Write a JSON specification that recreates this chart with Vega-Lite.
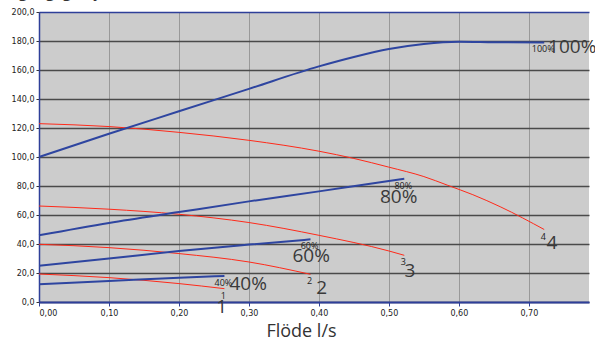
{
  "$schema": "https://vega.github.io/schema/vega-lite/v6.json",
  "width": 550,
  "height": 290,
  "autosize": {"type": "none"},
  "padding": {"left": 39, "top": 12, "right": 6, "bottom": 40},
  "background": "white",
  "config": {
    "locale": {"number": {"decimal": ",", "thousands": "\u00a0", "grouping": [3], "currency": ["", " kr"]}},
    "view": {"fill": "#cccccc", "stroke": null},
    "axis": {"labelFont": "DejaVu Sans", "labelFontSize": 8, "labelColor": "#222222", "titleFont": "Open Sans", "titleFontWeight": "normal", "titleColor": "#333333"}
  },
  "datasets": {
    "curves": [
      {"series": "100%", "kind": "pump", "x": 0, "y": 100},
      {"series": "100%", "kind": "pump", "x": 0.1, "y": 116},
      {"series": "100%", "kind": "pump", "x": 0.2, "y": 131.5},
      {"series": "100%", "kind": "pump", "x": 0.3, "y": 147},
      {"series": "100%", "kind": "pump", "x": 0.4, "y": 162.5},
      {"series": "100%", "kind": "pump", "x": 0.45, "y": 169},
      {"series": "100%", "kind": "pump", "x": 0.5, "y": 174.5},
      {"series": "100%", "kind": "pump", "x": 0.55, "y": 178},
      {"series": "100%", "kind": "pump", "x": 0.6, "y": 179.5},
      {"series": "100%", "kind": "pump", "x": 0.65, "y": 179.2},
      {"series": "100%", "kind": "pump", "x": 0.722, "y": 179},
      {"series": "80%", "kind": "pump", "x": 0, "y": 46},
      {"series": "80%", "kind": "pump", "x": 0.1, "y": 54.5},
      {"series": "80%", "kind": "pump", "x": 0.2, "y": 62},
      {"series": "80%", "kind": "pump", "x": 0.3, "y": 69.4},
      {"series": "80%", "kind": "pump", "x": 0.4, "y": 76.3},
      {"series": "80%", "kind": "pump", "x": 0.5, "y": 83.5},
      {"series": "80%", "kind": "pump", "x": 0.522, "y": 85},
      {"series": "60%", "kind": "pump", "x": 0, "y": 25},
      {"series": "60%", "kind": "pump", "x": 0.1, "y": 30},
      {"series": "60%", "kind": "pump", "x": 0.2, "y": 35.2},
      {"series": "60%", "kind": "pump", "x": 0.3, "y": 39.6},
      {"series": "60%", "kind": "pump", "x": 0.388, "y": 43.2},
      {"series": "40%", "kind": "pump", "x": 0, "y": 12.2},
      {"series": "40%", "kind": "pump", "x": 0.1, "y": 14.5},
      {"series": "40%", "kind": "pump", "x": 0.2, "y": 16.8},
      {"series": "40%", "kind": "pump", "x": 0.265, "y": 17.9},
      {"series": "4", "kind": "system", "x": 0, "y": 123},
      {"series": "4", "kind": "system", "x": 0.1, "y": 121},
      {"series": "4", "kind": "system", "x": 0.2, "y": 117},
      {"series": "4", "kind": "system", "x": 0.3, "y": 111.5},
      {"series": "4", "kind": "system", "x": 0.4, "y": 104},
      {"series": "4", "kind": "system", "x": 0.45, "y": 99},
      {"series": "4", "kind": "system", "x": 0.5, "y": 93},
      {"series": "4", "kind": "system", "x": 0.55, "y": 86.5},
      {"series": "4", "kind": "system", "x": 0.584, "y": 80.5},
      {"series": "4", "kind": "system", "x": 0.62, "y": 74},
      {"series": "4", "kind": "system", "x": 0.66, "y": 65.5},
      {"series": "4", "kind": "system", "x": 0.722, "y": 50},
      {"series": "3", "kind": "system", "x": 0, "y": 66.2},
      {"series": "3", "kind": "system", "x": 0.1, "y": 64},
      {"series": "3", "kind": "system", "x": 0.2, "y": 60.5},
      {"series": "3", "kind": "system", "x": 0.3, "y": 54.8},
      {"series": "3", "kind": "system", "x": 0.4, "y": 46},
      {"series": "3", "kind": "system", "x": 0.5, "y": 35.2},
      {"series": "3", "kind": "system", "x": 0.522, "y": 32.2},
      {"series": "2", "kind": "system", "x": 0, "y": 39.8},
      {"series": "2", "kind": "system", "x": 0.1, "y": 37.5},
      {"series": "2", "kind": "system", "x": 0.2, "y": 33.4},
      {"series": "2", "kind": "system", "x": 0.3, "y": 27.6},
      {"series": "2", "kind": "system", "x": 0.388, "y": 19.1},
      {"series": "1", "kind": "system", "x": 0, "y": 19.3},
      {"series": "1", "kind": "system", "x": 0.1, "y": 16.8},
      {"series": "1", "kind": "system", "x": 0.2, "y": 12.7},
      {"series": "1", "kind": "system", "x": 0.265, "y": 9.2}
    ],
    "annotations": [
      {"label": "100%", "x": 0.762, "y": 175.7},
      {"label": "80%", "x": 0.514, "y": 72.2},
      {"label": "60%", "x": 0.389, "y": 31.5},
      {"label": "40%", "x": 0.299, "y": 12.2},
      {"label": "4", "x": 0.733, "y": 40.5},
      {"label": "3", "x": 0.53, "y": 21.2},
      {"label": "2", "x": 0.404, "y": 9.5},
      {"label": "1", "x": 0.261, "y": -3.5}
    ]
  },
  "encoding": {
    "x": {
      "field": "x", "type": "quantitative",
      "scale": {"domain": [0, 0.786], "nice": false, "zero": false},
      "axis": {
        "values": [0, 0.1, 0.2, 0.3, 0.4, 0.5, 0.6, 0.7],
        "format": ".2f",
        "title": "Flöde l/s",
        "titleFontSize": 18,
        "titleX": 262,
        "titleY": 34,
        "titleAnchor": null,
        "titleAlign": "center",
        "titleBaseline": "alphabetic",
        "grid": true,
        "gridColor": "#999999",
        "gridWidth": 1,
        "domainColor": "#2e3f99",
        "domainWidth": 2,
        "tickColor": "#2e3f99",
        "tickSize": 4,
        "labelPadding": 3
      }
    },
    "y": {
      "field": "y", "type": "quantitative",
      "scale": {"domain": [0, 200], "nice": false, "zero": false},
      "axis": {
        "values": [0, 20, 40, 60, 80, 100, 120, 140, 160, 180, 200],
        "format": ".1f",
        "title": "Tillgängligt tryck, kPa",
        "titleFontSize": 16,
        "titleAngle": 0,
        "titleAlign": "left",
        "titleBaseline": "alphabetic",
        "titleX": -42,
        "titleY": -16,
        "grid": true,
        "gridColor": {"condition": {"test": "datum.value === 200", "value": "#2e3f99"}, "value": "#4a4a4a"},
        "gridWidth": 1.5,
        "domainColor": "#2e3f99",
        "domainWidth": 1.5,
        "tickColor": "#333333",
        "tickSize": 3,
        "labelPadding": 2
      }
    }
  },
  "layer": [
    {
      "data": {"name": "curves"},
      "transform": [{"filter": "datum.kind === 'system'"}],
      "mark": {"type": "line", "interpolate": "monotone", "color": "#ff2a1a", "strokeWidth": 1},
      "encoding": {"detail": {"field": "series"}}
    },
    {
      "data": {"name": "curves"},
      "transform": [{"filter": "datum.kind === 'pump'"}],
      "mark": {"type": "line", "interpolate": "monotone", "color": "#2e45a0", "strokeWidth": 2},
      "encoding": {"detail": {"field": "series"}}
    },
    {
      "data": {"name": "curves"},
      "transform": [
        {"joinaggregate": [{"op": "max", "field": "x", "as": "maxx"}], "groupby": ["series"]},
        {"filter": "datum.x === datum.maxx"}
      ],
      "mark": {"type": "text", "font": "Open Sans", "fontSize": 9, "color": "#222222", "dx": -1, "dy": 7},
      "encoding": {"text": {"field": "series"}}
    },
    {
      "data": {"name": "annotations"},
      "mark": {"type": "text", "font": "Open Sans", "fontSize": 19, "color": "#3a3a3a", "clip": false},
      "encoding": {"text": {"field": "label"}}
    }
  ]
}
